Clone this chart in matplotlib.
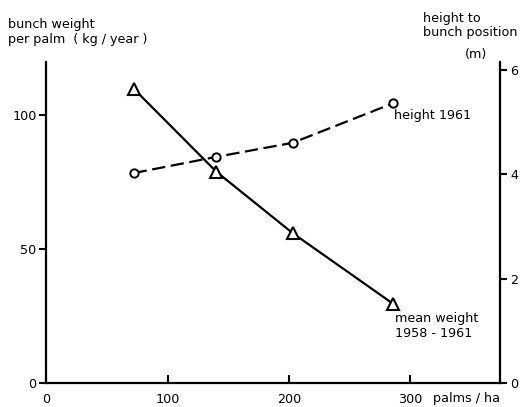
import numpy as np
from matplotlib import pyplot as plt

density = [72, 140, 203, 286]          # palms / ha
mean_weight = [110, 79, 56, 29.5]      # kg / year per palm
height_1961 = [4.02, 4.33, 4.6, 5.36]  # m

x_ticks = [0, 100, 200, 300]
w_ticks = [0, 50, 100]
h_ticks = [0, 2, 4, 6]

plt.rcParams['font.family'] = 'DejaVu Sans'
plt.rcParams['font.size'] = 9.2

fig = plt.figure(figsize=(5.25, 4.07), dpi=100)
ax = fig.add_axes([0.088, 0.059, 0.865, 0.789])
ax2 = ax.twinx()

ax.plot(density, mean_weight, "k-", lw=1.6, marker="^", ms=9,
        mfc="white", mec="black", mew=1.5, zorder=3)
ax2.plot(density, height_1961, "k-", lw=1.6, dashes=(6, 2.5), marker="o",
         ms=6, mfc="white", mec="black", mew=1.4, zorder=3)

ax.set_xlim(0, 374)
ax.set_ylim(0, 120)
ax2.set_ylim(0, 6.15)

ax.set_xticks(x_ticks)
ax.set_yticks(w_ticks)
ax2.set_yticks(h_ticks)

for a in (ax, ax2):
    a.spines["top"].set_visible(False)
    for s in a.spines.values():
        s.set_linewidth(1.6)
ax.spines["right"].set_visible(False)
ax2.spines["left"].set_visible(False)
ax2.spines["bottom"].set_visible(False)

ax.tick_params(axis="x", direction="in", length=6, width=1.5, pad=7)
ax.tick_params(axis="y", direction="out", length=5, width=1.5, pad=2)
ax2.tick_params(axis="y", direction="out", length=5, width=1.5, pad=2)

fig.text(0.015, 0.939, "bunch weight", ha="left", va="center")
fig.text(0.015, 0.902, "per palm  ( kg / year )", ha="left", va="center")
fig.text(0.805, 0.955, "height to", ha="left", va="center")
fig.text(0.805, 0.92, "bunch position", ha="left", va="center")
fig.text(0.885, 0.865, "(m)", ha="left", va="center")

ax2.text(density[-1] + 0.5, height_1961[-1] - 0.23, "height 1961",
         ha="left", va="center")
ax.text(density[-1] + 1, mean_weight[-1] - 3, "mean weight\n1958 - 1961",
        ha="left", va="top", linespacing=1.15)
fig.text(0.825, 0.022, "palms / ha", ha="left", va="center")

fig.savefig("out.png", dpi=100)
